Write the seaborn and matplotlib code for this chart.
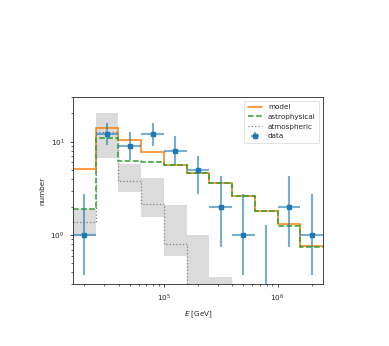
import numpy as np
import matplotlib
matplotlib.use("Agg")
import matplotlib.pyplot as plt
import seaborn as sns

# bin edges in log10(E/GeV)
log_edges = [4.2, 4.4, 4.6, 4.8, 5.0, 5.2, 5.4, 5.6, 5.8, 6.0, 6.2, 6.4]
model = [5.1, 14.0, 10.3, 7.8, 5.6, 4.6, 3.6, 2.6, 1.8, 1.3, 0.76]
astrophysical = [1.9, 11.0, 6.2, 6.1, 5.6, 4.6, 3.6, 2.6, 1.8, 1.25, 0.75]
atmospheric = [1.37, 12.8, 3.76, 2.13, 0.81, 0.25, 0.1, 0.05, 0.02, 0.01, 0.005]
atm_low = [0.98, 6.7, 2.9, 1.57, 0.6, 0.1, 0.05, 0.02, 0.01, 0.005, 0.002]
atm_high = [1.9, 20.1, 5.8, 4.1, 2.11, 1.0, 0.357, 0.15, 0.08, 0.04, 0.02]
data = [1, 12, 9, 12, 8, 5, 2, 1, 0, 2, 1]
data_low = [0.37, 9.1, 6.3, 9.0, 5.6, 2.75, 0.74, 0.37, 0.0, 0.74, 0.37]
data_high = [2.75, 15.9, 12.6, 16.0, 11.4, 7.1, 4.25, 2.75, 1.29, 4.25, 2.75]

sns.set_style("ticks")
plt.rcParams["font.family"] = ["DejaVu Sans"]
fs = 5.2

edges = 10 ** np.array(log_edges)
centers = 10 ** ((np.array(log_edges[:-1]) + np.array(log_edges[1:])) / 2)
d = np.array(data, dtype=float)
yerr = np.vstack([d - np.array(data_low), np.array(data_high) - d])
xerr = np.vstack([centers - edges[:-1], edges[1:] - centers])

fig = plt.figure(figsize=(3.89, 3.46), dpi=100)
ax = fig.add_axes([73 / 389, 62 / 346, 250 / 389, 187 / 346])

ax.stairs(atm_high, edges, baseline=atm_low, fill=True, color="lightgray", alpha=0.8, lw=0)
ax.stairs(model, edges, color="tab:orange", lw=1.1, label="model", baseline=None)
ax.stairs(astrophysical, edges, color="tab:green", lw=1.1, ls="--", label="astrophysical", baseline=None)
ax.stairs(atmospheric, edges, color="gray", lw=0.9, ls=":", label="atmospheric", baseline=None)

ecol = (0.12, 0.47, 0.71, 0.6)
mask = d > 0
ax.errorbar(centers[mask], d[mask], yerr=yerr[:, mask], xerr=xerr[:, mask], fmt="s",
            color="tab:blue", ms=3.4, ecolor=ecol, elinewidth=1.5, label="data")
ax.errorbar(centers[~mask], np.array(data_high)[~mask],
            yerr=[np.array(data_high)[~mask] - 0.01, np.zeros((~mask).sum())],
            fmt="none", ecolor=ecol, elinewidth=1.5)

ax.set_xscale("log")
ax.set_yscale("log")
ax.set_xlim(edges[0], edges[-1])
ax.set_ylim(0.3, 30)
ax.set_xlabel("$E$ [GeV]", fontsize=fs)
ax.set_ylabel("number", fontsize=fs)
ax.tick_params(labelsize=fs, width=0.6, length=2.5)
ax.tick_params(which="minor", width=0.5, length=1.5)
for s in ax.spines.values():
    s.set_linewidth(0.6)
leg = ax.legend(loc="upper right", fontsize=fs, frameon=True, borderpad=0.5)
leg.get_frame().set_linewidth(0.5)

fig.savefig("out.png", dpi=100)
